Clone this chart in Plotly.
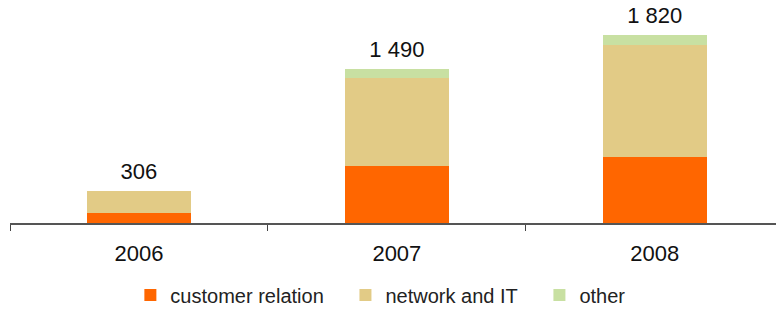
import plotly.graph_objects as go

years = ["2006", "2007", "2008"]
customer_relation = [95, 550, 642]
network_it = [211, 855, 1088]
other = [0, 85, 90]
series_names = ["customer relation", "network and IT", "other"]
totals = [a + b + c for a, b, c in zip(customer_relation, network_it, other)]
total_labels = [f"{t:,}".replace(",", " ") for t in totals]

FONT = "Liberation Sans, Arial, Helvetica, sans-serif"
PAD = "\u00a0\u00a0\u00a0"

fig = go.Figure()
for vals, name, col in zip([customer_relation, network_it, other], series_names,
                           ["#FF6600", "#E2CB86", "#C8E0A2"]):
    fig.add_bar(x=years, y=vals, name=name + PAD, marker_color=col, marker_line_width=0)
fig.add_scatter(x=years, y=totals, mode="markers+text", text=total_labels, textposition="top center",
                marker=dict(size=10, color="rgba(0,0,0,0)"),
                textfont=dict(size=22, color="#111111", family=FONT), showlegend=False,
                hoverinfo="skip", cliponaxis=False)

fig.update_layout(
    width=776, height=310,
    barmode="stack", bargap=0.597,
    margin=dict(l=10, r=0, t=10, b=87),
    paper_bgcolor="white", plot_bgcolor="white",
    font=dict(family=FONT, size=20, color="#111111"),
    showlegend=True,
    legend=dict(orientation="h", xref="container", yref="container",
                x=0.168, xanchor="left", y=0.048, yanchor="middle",
                font=dict(size=20, color="#222222"), traceorder="normal"),
)
fig.update_xaxes(type="category", range=[-0.5, 2.47], tickson="boundaries",
                 ticks="outside", ticklen=6, tickcolor="#444444", tickwidth=1,
                 showline=True, linecolor="#555555", linewidth=1.5,
                 showgrid=False, tickfont=dict(size=22, color="#111111"), ticklabelstandoff=10)
fig.update_yaxes(range=[0, 2065], visible=False, showgrid=False, zeroline=False)

fig.write_html("out.html", config={"displayModeBar": False},
               post_script="document.body.style.margin='0';")
